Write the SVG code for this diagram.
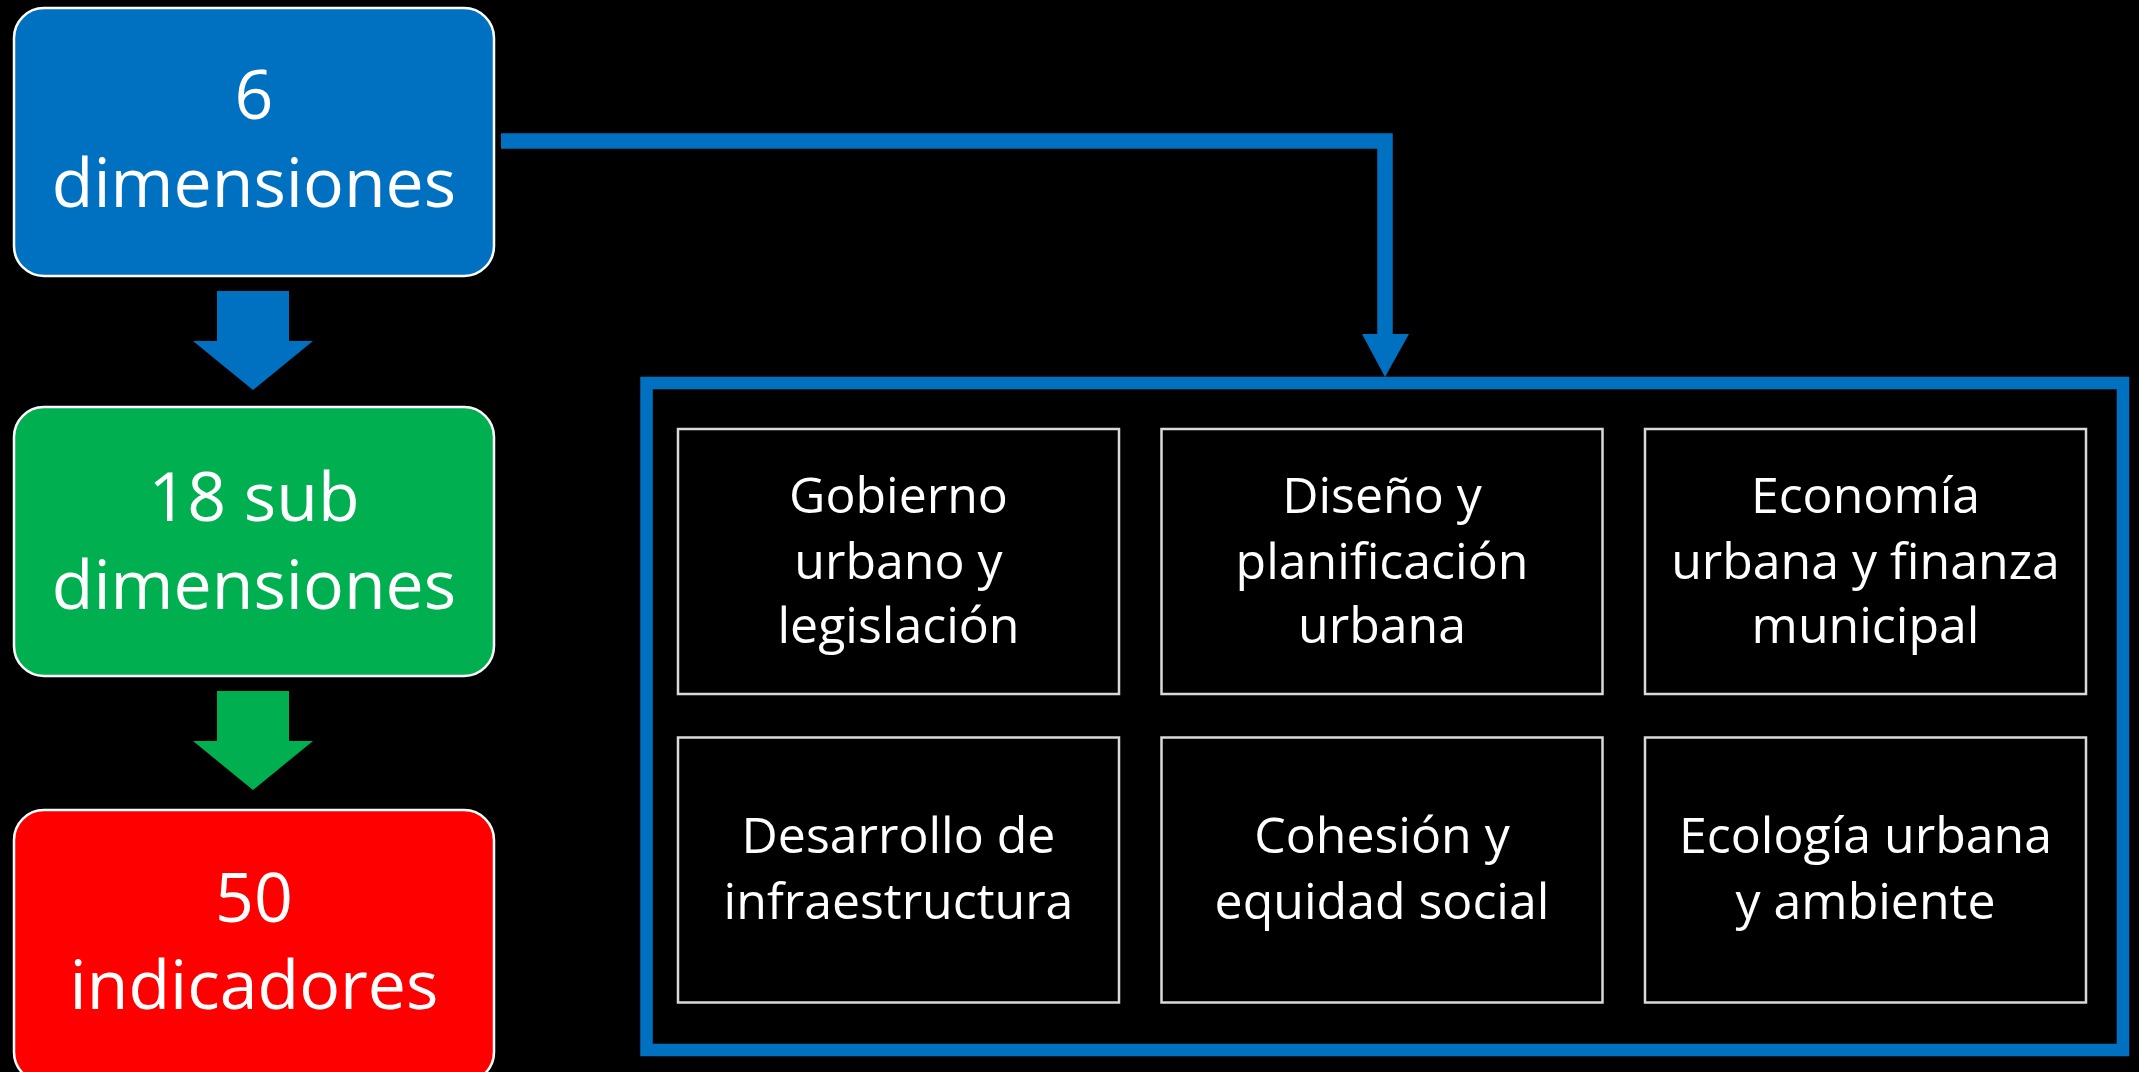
<svg xmlns="http://www.w3.org/2000/svg" width="2139" height="1072" viewBox="0 0 2139 1072">
<style>
.bg{fill:#000}
.big{fill:#fff;font-family:"Open Sans","Noto Sans",sans-serif;font-size:68px;text-anchor:middle}
.small{fill:#fff;font-family:"Open Sans","Noto Sans",sans-serif;font-size:50px;text-anchor:middle}
.rbox{stroke:#fff;stroke-width:2.5}
.cell{fill:#000;stroke:#d9d9d9;stroke-width:2.5}
.blue{fill:#0070C0}
.green{fill:#00B050}
.red{fill:#FF0000}
</style>
<rect class="bg" x="0" y="0" width="2139" height="1072"/>

<g id="connectors">
  <polygon class="blue" points="217,291 289,291 289,341 313,341 253,390 193,341 217,341"/>
  <polygon class="green" points="217,691 289,691 289,741 313,741 253,790 193,741 217,741"/>
  <path d="M501,141 H1385 V336" fill="none" stroke="#0070C0" stroke-width="15.5" stroke-linejoin="miter"/>
  <polygon class="blue" points="1362,334 1409,334 1385,377"/>
</g>

<g id="node-dimensiones">
  <rect class="rbox blue" x="14" y="8" width="480" height="268" rx="30"/>
  <text class="big" x="254" y="119">6</text>
  <text class="big" x="254" y="207">dimensiones</text>
</g>

<g id="node-subdimensiones">
  <rect class="rbox green" x="14" y="407" width="480" height="269" rx="30"/>
  <text class="big" x="254" y="521">18 sub</text>
  <text class="big" x="254" y="609">dimensiones</text>
</g>

<g id="node-indicadores">
  <rect class="rbox red" x="14" y="810" width="480" height="272" rx="30"/>
  <text class="big" x="254" y="922">50</text>
  <text class="big" x="254" y="1009">indicadores</text>
</g>

<g id="frame">
  <rect x="646.5" y="383" width="1476.5" height="667" fill="none" stroke="#0070C0" stroke-width="12.5"/>
</g>

<g id="cell-gobierno">
  <rect class="cell" x="678" y="429" width="441" height="265"/>
  <text class="small" x="898.5" y="513">Gobierno</text>
  <text class="small" x="898.5" y="579">urbano y</text>
  <text class="small" x="898.5" y="643">legislación</text>
</g>

<g id="cell-diseno">
  <rect class="cell" x="1161.5" y="429" width="441" height="265"/>
  <text class="small" x="1382" y="513">Diseño y</text>
  <text class="small" x="1382" y="579">planificación</text>
  <text class="small" x="1382" y="643">urbana</text>
</g>

<g id="cell-economia">
  <rect class="cell" x="1645" y="429" width="441" height="265"/>
  <text class="small" x="1865.5" y="513">Economía</text>
  <text class="small" x="1865.5" y="579">urbana y finanza</text>
  <text class="small" x="1865.5" y="643">municipal</text>
</g>

<g id="cell-desarrollo">
  <rect class="cell" x="678" y="737.5" width="441" height="265"/>
  <text class="small" x="898.5" y="853">Desarrollo de</text>
  <text class="small" x="898.5" y="919">infraestructura</text>
</g>

<g id="cell-cohesion">
  <rect class="cell" x="1161.5" y="737.5" width="441" height="265"/>
  <text class="small" x="1382" y="853">Cohesión y</text>
  <text class="small" x="1382" y="919">equidad social</text>
</g>

<g id="cell-ecologia">
  <rect class="cell" x="1645" y="737.5" width="441" height="265"/>
  <text class="small" x="1865.5" y="853">Ecología urbana</text>
  <text class="small" x="1865.5" y="919">y ambiente</text>
</g>
</svg>
